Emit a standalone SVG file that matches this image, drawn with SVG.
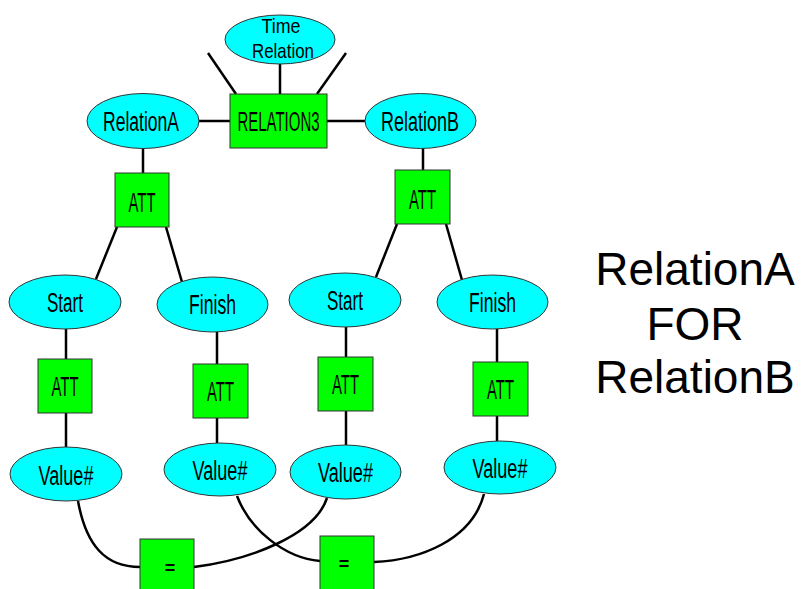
<svg xmlns="http://www.w3.org/2000/svg" width="802" height="589" viewBox="0 0 802 589">
<style>
.e{fill:#00FFFF;stroke:#333;stroke-width:1}
.r{fill:#00FF00;stroke:#333;stroke-width:1}
.t{font-family:"Liberation Sans",Arial,sans-serif;font-size:27px;fill:#000;text-anchor:middle}
.s{font-size:21px}
.q{font-family:"Liberation Sans",Arial,sans-serif;font-size:18px;font-weight:bold;fill:#000;text-anchor:middle}
.c{fill:none;stroke:#000;stroke-width:2.5}
.big{font-family:"Liberation Sans",Arial,sans-serif;font-size:46px;fill:#000;text-anchor:middle}
</style>
<g id="connectors">
<line class="c" x1="280" y1="64" x2="280" y2="94"/>
<line class="c" x1="208" y1="53" x2="236" y2="94"/>
<line class="c" x1="346" y1="53" x2="317" y2="94"/>
<line class="c" x1="199" y1="121" x2="230" y2="121"/>
<line class="c" x1="327" y1="121" x2="365" y2="121"/>
<line class="c" x1="143" y1="148" x2="143" y2="173"/>
<line class="c" x1="423" y1="148" x2="423" y2="170"/>
<line class="c" x1="117" y1="227" x2="96" y2="279"/>
<line class="c" x1="166" y1="227" x2="182" y2="282"/>
<line class="c" x1="397" y1="224" x2="376" y2="277"/>
<line class="c" x1="446" y1="224" x2="462" y2="280"/>
<line class="c" x1="66" y1="329" x2="66" y2="359"/>
<line class="c" x1="66" y1="413" x2="66" y2="447"/>
<line class="c" x1="217" y1="332" x2="217" y2="364"/>
<line class="c" x1="217" y1="418" x2="217" y2="443"/>
<line class="c" x1="346" y1="327" x2="346" y2="357"/>
<line class="c" x1="346" y1="411" x2="346" y2="445"/>
<line class="c" x1="497" y1="329" x2="497" y2="362"/>
<line class="c" x1="497" y1="416" x2="497" y2="441"/>
<path class="c" d="M78,501 C86,545 105,567 140,567"/>
<path class="c" d="M327,498 C315,535 250,560 194,567"/>
<path class="c" d="M237,496 C250,530 285,558 320,561"/>
<path class="c" d="M484,494 C472,540 420,560 374,562"/>
</g>
<g id="time"><ellipse class="e" cx="280" cy="39.5" rx="55" ry="24.5"/><text class="t s" x="281" y="33" textLength="39" lengthAdjust="spacingAndGlyphs">Time</text><text class="t s" x="283" y="58" textLength="62" lengthAdjust="spacingAndGlyphs">Relation</text></g>
<g id="relation3"><rect class="r" x="230" y="94" width="97" height="54"/><text class="t" x="278.5" y="131" textLength="82" lengthAdjust="spacingAndGlyphs">RELATION3</text></g>
<g id="relationA"><ellipse class="e" cx="143" cy="121" rx="56" ry="27.5"/><text class="t" x="141" y="131" textLength="76" lengthAdjust="spacingAndGlyphs">RelationA</text></g>
<g id="relationB"><ellipse class="e" cx="420.5" cy="121" rx="55.5" ry="27.5"/><text class="t" x="420" y="131" textLength="78" lengthAdjust="spacingAndGlyphs">RelationB</text></g>
<g id="attA"><rect class="r" x="115" y="173" width="54" height="54"/><text class="t" x="142" y="212" textLength="27" lengthAdjust="spacingAndGlyphs">ATT</text></g>
<g id="attB"><rect class="r" x="395" y="170" width="55" height="54"/><text class="t" x="422.5" y="209" textLength="27" lengthAdjust="spacingAndGlyphs">ATT</text></g>
<g id="startA"><ellipse class="e" cx="65" cy="302" rx="56" ry="27"/><text class="t" x="65" y="312" textLength="36" lengthAdjust="spacingAndGlyphs">Start</text></g>
<g id="finishA"><ellipse class="e" cx="212.5" cy="304.5" rx="55.5" ry="27.5"/><text class="t" x="212.5" y="314" textLength="47" lengthAdjust="spacingAndGlyphs">Finish</text></g>
<g id="startB"><ellipse class="e" cx="345" cy="300" rx="56" ry="27"/><text class="t" x="345" y="310" textLength="36" lengthAdjust="spacingAndGlyphs">Start</text></g>
<g id="finishB"><ellipse class="e" cx="492.5" cy="302" rx="55.5" ry="27"/><text class="t" x="492.5" y="312" textLength="47" lengthAdjust="spacingAndGlyphs">Finish</text></g>
<g id="attStartA"><rect class="r" x="38" y="359" width="54" height="54"/><text class="t" x="65" y="396" textLength="27" lengthAdjust="spacingAndGlyphs">ATT</text></g>
<g id="attFinishA"><rect class="r" x="193" y="364" width="55" height="54"/><text class="t" x="220.5" y="401" textLength="27" lengthAdjust="spacingAndGlyphs">ATT</text></g>
<g id="attStartB"><rect class="r" x="318" y="357" width="55" height="54"/><text class="t" x="345.5" y="394" textLength="27" lengthAdjust="spacingAndGlyphs">ATT</text></g>
<g id="attFinishB"><rect class="r" x="473" y="362" width="55" height="54"/><text class="t" x="500.5" y="399" textLength="27" lengthAdjust="spacingAndGlyphs">ATT</text></g>
<g id="valueStartA"><ellipse class="e" cx="66" cy="474" rx="56" ry="27"/><text class="t" x="66" y="485" textLength="55" lengthAdjust="spacingAndGlyphs">Value#</text></g>
<g id="valueFinishA"><ellipse class="e" cx="220" cy="469.5" rx="56" ry="26.5"/><text class="t" x="220" y="480" textLength="55" lengthAdjust="spacingAndGlyphs">Value#</text></g>
<g id="valueStartB"><ellipse class="e" cx="345.5" cy="472" rx="55.5" ry="27"/><text class="t" x="345.5" y="482" textLength="55" lengthAdjust="spacingAndGlyphs">Value#</text></g>
<g id="valueFinishB"><ellipse class="e" cx="500" cy="467.5" rx="56" ry="26.5"/><text class="t" x="500" y="478" textLength="55" lengthAdjust="spacingAndGlyphs">Value#</text></g>
<g id="eq1"><rect class="r" x="140" y="539" width="54" height="54"/><text class="q" x="170" y="574">=</text></g>
<g id="eq2"><rect class="r" x="320" y="536" width="54" height="54"/><text class="q" x="344" y="570">=</text></g>
<g id="caption"><text class="big" x="695" y="285">RelationA</text><text class="big" x="695" y="340">FOR</text><text class="big" x="695" y="393">RelationB</text></g>
</svg>
